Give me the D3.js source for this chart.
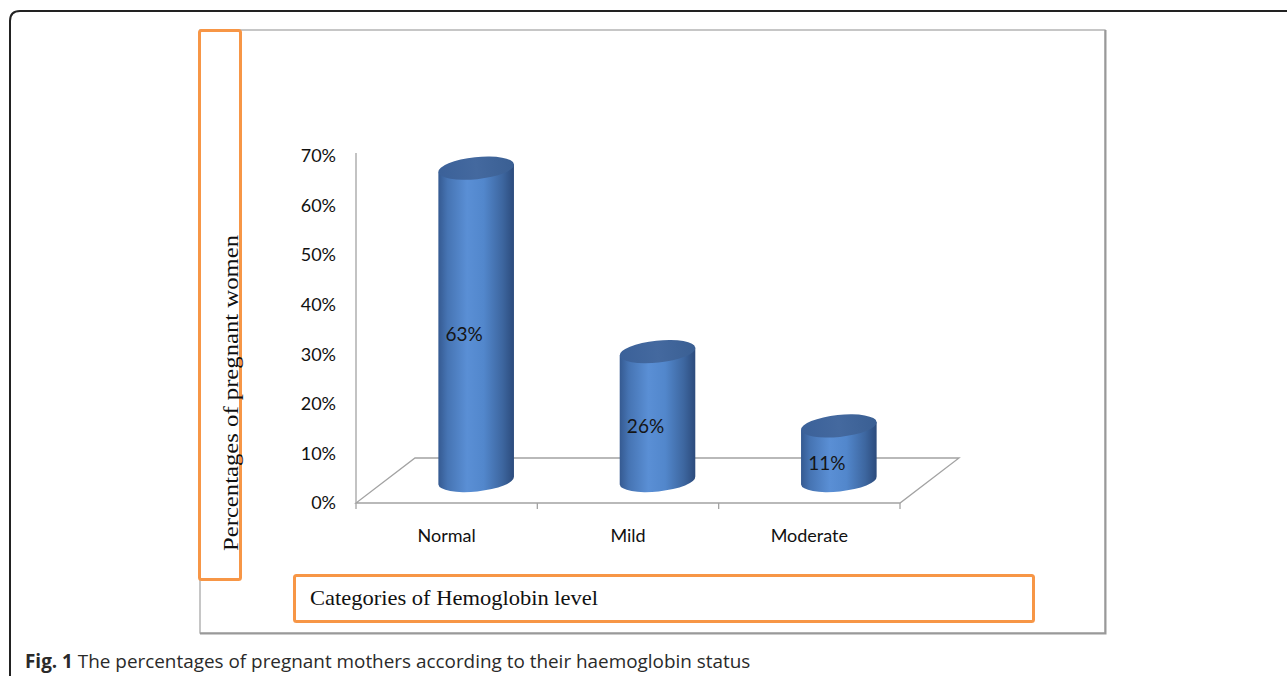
<!DOCTYPE html>
<html>
<head>
<meta charset="utf-8">
<script src="https://cdn.jsdelivr.net/npm/d3@7"></script>
<style>
  html, body { margin: 0; padding: 0; background: #fff; }
  svg { display: block; }
</style>
</head>
<body>
<svg id="chart" width="1287" height="676"></svg>
<script>
const categories = ["Normal", "Mild", "Moderate"];
const values = [0.63, 0.26, 0.11];
const valueLabels = ["63%", "26%", "11%"];
const yTicks = [0, 0.1, 0.2, 0.3, 0.4, 0.5, 0.6, 0.7];
const yTitle = "Percentages of pregnant women";
const xTitle = "Categories of Hemoglobin level";
const captionBold = "Fig. 1";
const captionText = " The percentages of pregnant mothers according to their haemoglobin status";

const svg = d3.select("#chart");
const W = 1287, H = 676;

// outer rounded border (open at right and bottom)
svg.append("path")
  .attr("d", `M10,${H + 5} L10,21 Q10,11 20,11 L${W + 5},11`)
  .attr("fill", "none").attr("stroke", "#222").attr("stroke-width", 2);

// chart frame
svg.append("rect").attr("x", 200).attr("y", 30).attr("width", 905).attr("height", 603)
  .attr("fill", "none").attr("stroke", "#a8a8a8").attr("stroke-width", 1.3);
svg.append("path").attr("d", "M1105.5,30 L1105.5,633.5 L200,633.5")
  .attr("fill", "none").attr("stroke", "#999").attr("stroke-width", 2);

// scales
const x = d3.scaleBand().domain(categories).range([356, 900]).paddingInner(0).paddingOuter(0);
const y = d3.scaleLinear().domain([0, 0.7]).range([503, 156]);
const depthX = 59, depthY = -45;

const gray = "#a3a3a3";
// floor
const x0 = x.range()[0], x1 = x.range()[1], y0 = y(0);
svg.append("path")
  .attr("d", `M${x0},${y0} L${x1},${y0} L${x1 + depthX},${y0 + depthY} L${x0 + depthX},${y0 + depthY} Z`)
  .attr("fill", "none").attr("stroke", gray).attr("stroke-width", 1.3);
// value axis line
svg.append("line").attr("x1", x0).attr("x2", x0).attr("y1", y(0.7) - 3).attr("y2", y0)
  .attr("stroke", gray).attr("stroke-width", 1.3);

// category ticks
const tickXs = categories.map(c => x(c)).concat([x1]);
svg.selectAll(".ctick").data(tickXs).enter().append("line")
  .attr("x1", d => d).attr("x2", d => d).attr("y1", y0).attr("y2", y0 + 6)
  .attr("stroke", gray).attr("stroke-width", 1.3);

// y axis labels
const yAxis = d3.axisLeft(y).tickValues(yTicks).tickFormat(d3.format(".0%")).tickSize(0).tickPadding(20);
const ga = svg.append("g").attr("transform", `translate(${x0},0)`).call(yAxis);
ga.select(".domain").remove();
ga.selectAll("text").attr("font-family", "Lato, sans-serif").attr("font-size", 18).attr("fill", "#111");

// x axis labels
const xAxis = d3.axisBottom(x).tickSize(0).tickPadding(26);
const gx = svg.append("g").attr("transform", `translate(0,${y0})`).call(xAxis);
gx.select(".domain").remove();
gx.selectAll("text").attr("font-family", "Lato, sans-serif").attr("font-size", 18).attr("fill", "#111");

// gradients
const defs = svg.append("defs");
const gb = defs.append("linearGradient").attr("id", "body").attr("x1", "0").attr("x2", "1").attr("y1", "0").attr("y2", "0");
[[0, "#355a91"], [0.12, "#4674b3"], [0.38, "#5a8fd5"], [0.6, "#5287cc"], [0.85, "#3d669f"], [1, "#2c4b7c"]]
  .forEach(s => gb.append("stop").attr("offset", s[0]).attr("stop-color", s[1]));
const gt = defs.append("linearGradient").attr("id", "top").attr("x1", "0").attr("x2", "1").attr("y1", "0").attr("y2", "0");
[[0, "#3b6199"], [0.5, "#44699f"], [1, "#3a5f93"]]
  .forEach(s => gt.append("stop").attr("offset", s[0]).attr("stop-color", s[1]));

// cylinders
const rx = 38, ry = 11, rot = -6;
const th = rot * Math.PI / 180;
const ex = rx * Math.cos(th), ey = rx * Math.sin(th);
const data = categories.map((c, i) => {
  const cx = x(c) + x.bandwidth() / 2 + depthX / 2;
  const base = y0 + depthY / 2;
  const top = base - (y(0) - y(values[i]));
  return { c, v: values[i], label: valueLabels[i], cx, base, top };
});

const cyl = svg.selectAll(".cyl").data(data).enter().append("g");
cyl.append("path")
  .attr("d", d => `M${d.cx - ex},${d.top - ey} L${d.cx - ex},${d.base - ey} A${rx},${ry} ${rot} 0 0 ${d.cx + ex},${d.base + ey} L${d.cx + ex},${d.top + ey} Z`)
  .attr("fill", "url(#body)");
cyl.append("ellipse")
  .attr("cx", d => d.cx).attr("cy", d => d.top).attr("rx", rx).attr("ry", ry)
  .attr("transform", d => `rotate(${rot},${d.cx},${d.top})`)
  .attr("fill", "url(#top)");
cyl.append("text")
  .attr("x", d => d.cx - 12).attr("y", d => (d.top + d.base) / 2 + 10).attr("dy", "0.35em")
  .attr("text-anchor", "middle").attr("font-family", "Lato, sans-serif").attr("font-size", 19).attr("fill", "#151515")
  .text(d => d.label);

// orange title boxes
const orange = "#f79646";
svg.append("rect").attr("x", 199.5).attr("y", 30.5).attr("width", 41).attr("height", 549).attr("rx", 2)
  .attr("fill", "none").attr("stroke", orange).attr("stroke-width", 3);
svg.append("rect").attr("x", 294.5).attr("y", 575.5).attr("width", 739).attr("height", 46).attr("rx", 2)
  .attr("fill", "none").attr("stroke", orange).attr("stroke-width", 3);

// axis titles
svg.append("text").attr("transform", "translate(238,393) rotate(-90)")
  .attr("text-anchor", "middle").attr("font-family", "'Liberation Serif', 'Times New Roman', serif")
  .attr("font-size", 22).attr("textLength", 316).attr("lengthAdjust", "spacingAndGlyphs").attr("fill", "#111")
  .text(yTitle);
svg.append("text").attr("x", 310).attr("y", 605)
  .attr("font-family", "'Liberation Serif', 'Times New Roman', serif")
  .attr("font-size", 21).attr("textLength", 288).attr("lengthAdjust", "spacingAndGlyphs").attr("fill", "#111")
  .text(xTitle);

// caption
const cap = svg.append("text").attr("x", 25).attr("y", 668)
  .attr("font-family", "'Open Sans', 'Noto Sans', sans-serif").attr("font-size", 18.9).attr("fill", "#2a2a2a");
cap.append("tspan").attr("font-weight", "bold").text(captionBold);
cap.append("tspan").text(captionText);
</script>
</body>
</html>
